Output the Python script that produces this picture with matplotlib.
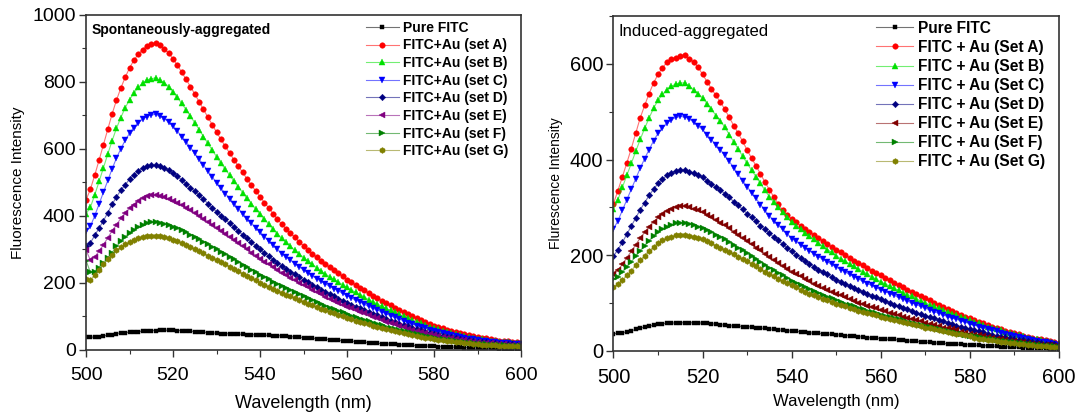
import numpy as np
import matplotlib
matplotlib.use('Agg')
import matplotlib.pyplot as plt
from matplotlib.colors import to_rgba
from matplotlib.ticker import MultipleLocator

plt.rcParams['font.family'] = ['Liberation Sans', 'DejaVu Sans']

# longitud de onda, 1 nm
wavelength = np.arange(500, 601)

# panel izquierdo: espontaneamente agregado
left_pure = [38, 38, 39, 40, 42, 44, 46, 49, 51, 52, 53, 54, 55, 56, 57, 58, 58,
             59, 59, 59, 59, 58, 58, 57, 56, 55, 54, 53, 52, 51, 50, 49, 49, 48, 48, 47, 47, 46, 46, 45, 45,
             44, 44, 43, 43, 42, 41, 40, 39, 38, 37, 36, 35, 34, 33, 32, 31, 30, 29, 28, 27,
             26, 25, 24, 23, 22, 21, 20, 19, 18, 18, 17, 16, 15, 14, 14, 13, 12, 12, 11, 11,
             10, 10, 9, 9, 8, 8, 7, 7, 6, 6, 6, 5, 5, 5, 4, 4, 4, 3, 3, 3]
left_a = [448, 480, 522, 567, 613, 659, 705, 746, 782, 814, 842, 865, 883, 897, 908, 913, 915,
          909, 899, 886, 869, 850, 829, 808, 786, 764, 741, 718, 695, 673, 650, 629, 608, 588, 568, 549, 530, 511, 492, 475, 458,
          440, 424, 407, 391, 375, 361, 349, 336, 323, 311, 299, 288, 277, 266, 256, 247, 238, 229, 220, 210,
          202, 194, 186, 178, 169, 162, 155, 147, 140, 133, 126, 120, 113, 107, 101, 95, 90, 84, 79, 73,
          70, 65, 61, 57, 53, 50, 48, 44, 41, 38, 37, 35, 32, 30, 28, 27, 26, 25, 23, 22]
left_b = [406, 426, 463, 503, 544, 585, 625, 662, 694, 723, 747, 767, 784, 796, 806, 810, 812,
          806, 798, 786, 771, 754, 736, 717, 698, 678, 658, 637, 617, 597, 577, 558, 540, 522, 504, 487, 470, 453, 437, 421, 406,
          391, 376, 361, 347, 333, 321, 309, 298, 287, 276, 266, 256, 246, 236, 227, 219, 211, 203, 195, 187,
          179, 172, 165, 158, 150, 144, 137, 131, 124, 118, 112, 106, 101, 95, 89, 84, 80, 75, 70, 65,
          62, 58, 54, 50, 47, 45, 42, 39, 37, 34, 32, 31, 28, 27, 25, 24, 23, 22, 20, 19]
left_c = [355, 369, 401, 436, 471, 506, 541, 573, 601, 626, 647, 664, 678, 689, 697, 702, 703,
          698, 691, 680, 668, 653, 637, 621, 604, 587, 569, 552, 534, 517, 499, 483, 467, 452, 437, 422, 407, 392, 378, 365, 352,
          338, 325, 313, 300, 288, 278, 268, 258, 248, 239, 230, 221, 213, 205, 197, 190, 183, 176, 169, 162,
          155, 149, 143, 136, 130, 124, 119, 113, 108, 102, 97, 92, 87, 82, 77, 73, 69, 65, 60, 56,
          53, 50, 47, 44, 41, 39, 37, 34, 32, 30, 28, 27, 25, 23, 22, 21, 20, 19, 18, 17]
left_d = [309, 320, 342, 364, 386, 410, 435, 457, 477, 493, 510, 523, 534, 543, 548, 551, 551,
          548, 543, 536, 528, 518, 508, 497, 485, 474, 462, 450, 437, 425, 413, 401, 390, 378, 367, 355, 344, 333, 322, 311, 300,
          290, 280, 270, 260, 251, 242, 234, 226, 217, 209, 202, 194, 187, 179, 172, 166, 160, 153, 147, 141,
          135, 129, 124, 118, 113, 108, 103, 98, 93, 88, 84, 79, 75, 71, 66, 63, 59, 55, 52, 48,
          46, 43, 40, 38, 35, 33, 31, 29, 27, 25, 24, 23, 21, 20, 19, 18, 17, 17, 16, 15]
left_e = [298, 268, 277, 296, 314, 335, 356, 374, 393, 409, 423, 434, 444, 453, 459, 462, 462,
          460, 456, 451, 446, 440, 433, 425, 417, 409, 400, 391, 383, 374, 365, 356, 347, 337, 328, 319, 310, 300, 291, 282, 273,
          264, 256, 248, 239, 231, 224, 216, 209, 201, 194, 187, 180, 173, 166, 159, 153, 147, 141, 135, 129,
          124, 119, 114, 109, 104, 99, 95, 90, 85, 81, 77, 73, 68, 64, 60, 57, 54, 50, 47, 44,
          42, 39, 37, 35, 32, 30, 29, 27, 25, 23, 22, 21, 20, 18, 18, 17, 16, 15, 15, 14]
left_f = [267, 232, 234, 246, 259, 274, 291, 309, 324, 337, 349, 358, 367, 373, 378, 381, 381,
          379, 376, 372, 368, 363, 357, 351, 344, 337, 330, 323, 315, 308, 301, 293, 286, 278, 271, 263, 255, 248, 240, 232, 225,
          218, 211, 204, 197, 191, 184, 178, 172, 166, 160, 154, 149, 143, 137, 131, 126, 122, 117, 112, 107,
          102, 98, 94, 90, 86, 82, 78, 74, 70, 67, 63, 60, 56, 53, 50, 47, 44, 42, 39, 36,
          34, 32, 30, 29, 27, 25, 24, 22, 21, 19, 18, 17, 16, 15, 14, 14, 13, 13, 12, 11]
left_g = [211, 210, 223, 239, 256, 271, 285, 297, 307, 315, 323, 329, 334, 338, 340, 341, 340,
          339, 337, 333, 329, 325, 320, 314, 308, 302, 295, 289, 282, 276, 269, 263, 256, 249, 242, 235, 228, 222, 215, 208, 201,
          195, 189, 183, 177, 171, 165, 160, 154, 149, 143, 138, 133, 128, 123, 118, 113, 109, 104, 100, 95,
          92, 88, 84, 80, 77, 73, 70, 66, 63, 60, 57, 54, 50, 47, 44, 42, 40, 37, 35, 32,
          31, 29, 27, 26, 24, 23, 21, 20, 18, 17, 16, 15, 15, 14, 13, 12, 12, 11, 11, 10]

# panel derecho: agregado inducido
right_pure = [36, 37, 38, 40, 42, 45, 48, 50, 52, 54, 56, 57, 58, 58, 59, 59, 59,
              59, 59, 59, 58, 58, 57, 56, 55, 54, 53, 52, 52, 51, 51, 50, 49, 48, 47, 46, 45, 44, 43, 42, 42,
              41, 40, 39, 38, 37, 37, 36, 35, 35, 34, 33, 32, 32, 31, 30, 29, 28, 27, 27, 26,
              25, 24, 24, 23, 22, 21, 20, 20, 19, 18, 18, 17, 16, 16, 15, 15, 14, 14, 13, 13,
              12, 12, 11, 11, 10, 10, 9, 9, 8, 8, 8, 7, 7, 7, 6, 6, 6, 5, 5, 5]
right_a = [308, 335, 364, 393, 423, 455, 487, 513, 538, 560, 578, 592, 603, 611, 612, 616, 618,
           610, 604, 593, 578, 563, 548, 534, 520, 505, 488, 471, 455, 438, 420, 403, 387, 370, 353, 337, 322, 307, 294, 285, 276,
           269, 262, 255, 249, 243, 237, 230, 224, 218, 212, 206, 200, 195, 189, 184, 179, 173, 168, 163, 158,
           153, 148, 143, 138, 133, 128, 124, 119, 115, 110, 106, 101, 97, 92, 88, 84, 80, 76, 72, 68,
           65, 61, 58, 54, 51, 48, 45, 42, 40, 37, 35, 32, 30, 28, 25, 24, 22, 20, 18, 16]
right_b = [297, 316, 342, 367, 392, 417, 442, 465, 487, 507, 524, 536, 546, 553, 558, 560, 560,
           554, 546, 538, 529, 517, 505, 492, 480, 468, 452, 437, 422, 407, 392, 378, 364, 350, 336, 322, 311, 301, 290, 279, 269,
           262, 254, 247, 240, 233, 226, 219, 212, 206, 199, 193, 188, 182, 177, 171, 166, 161, 155, 150, 145,
           140, 136, 131, 127, 122, 118, 114, 109, 105, 101, 97, 93, 90, 86, 82, 78, 75, 71, 68, 64,
           61, 58, 54, 51, 48, 45, 43, 40, 38, 35, 33, 31, 28, 26, 24, 22, 20, 18, 17, 15]
right_c = [255, 272, 294, 316, 338, 360, 382, 402, 421, 439, 455, 466, 476, 483, 488, 490, 489,
           485, 478, 470, 463, 452, 441, 431, 420, 409, 396, 383, 369, 356, 343, 331, 319, 306, 294, 282, 272, 263, 254, 245, 235,
           229, 222, 216, 209, 203, 197, 192, 186, 181, 175, 170, 165, 160, 155, 150, 146, 141, 137, 132, 128,
           124, 120, 116, 112, 108, 104, 100, 97, 93, 89, 86, 82, 79, 75, 72, 69, 66, 63, 60, 57,
           54, 51, 49, 46, 43, 41, 38, 36, 33, 31, 29, 27, 25, 23, 21, 19, 18, 16, 15, 13]
right_d = [198, 212, 227, 244, 261, 278, 295, 310, 325, 338, 350, 359, 367, 372, 376, 378, 378,
           375, 372, 367, 363, 356, 349, 342, 336, 329, 321, 312, 304, 296, 287, 279, 271, 262, 254, 246, 238, 231, 223, 215, 208,
           201, 195, 189, 182, 176, 170, 165, 160, 155, 149, 145, 140, 136, 131, 127, 123, 119, 115, 112, 108,
           104, 101, 97, 93, 90, 87, 84, 80, 77, 74, 71, 68, 65, 62, 59, 56, 53, 51, 48, 45,
           43, 41, 39, 36, 34, 32, 30, 29, 27, 25, 23, 22, 21, 19, 18, 17, 15, 15, 14, 12]
right_e = [160, 169, 181, 195, 208, 222, 236, 248, 260, 270, 279, 287, 293, 297, 300, 302, 302,
           300, 297, 294, 290, 284, 279, 274, 268, 263, 256, 249, 243, 236, 230, 223, 216, 210, 203, 196, 190, 184, 178, 172, 166,
           161, 156, 151, 146, 140, 136, 132, 128, 124, 119, 116, 112, 108, 105, 101, 98, 95, 92, 89, 86,
           83, 80, 78, 75, 72, 69, 67, 64, 62, 59, 56, 54, 52, 49, 47, 45, 43, 40, 38, 36,
           34, 33, 31, 29, 27, 26, 24, 23, 21, 20, 19, 18, 17, 15, 14, 13, 12, 12, 11, 10]
right_f = [150, 155, 165, 176, 186, 198, 209, 220, 230, 240, 248, 255, 260, 264, 267, 268, 268,
           266, 264, 260, 257, 252, 248, 243, 238, 233, 227, 221, 215, 210, 204, 198, 192, 186, 180, 174, 169, 163, 158, 153, 147,
           143, 138, 134, 129, 125, 121, 117, 113, 110, 106, 103, 99, 96, 93, 90, 87, 84, 82, 79, 76,
           74, 71, 69, 66, 64, 61, 59, 57, 55, 52, 50, 48, 46, 44, 42, 40, 38, 36, 34, 32,
           31, 29, 27, 26, 24, 23, 21, 20, 19, 18, 17, 16, 15, 14, 13, 12, 11, 10, 10, 9]
right_g = [134, 140, 148, 158, 168, 179, 190, 199, 209, 217, 225, 231, 236, 239, 242, 243, 243,
           241, 239, 236, 233, 229, 225, 220, 216, 212, 207, 202, 197, 192, 188, 182, 177, 172, 166, 161, 156, 151, 146, 142, 137,
           133, 128, 124, 120, 116, 113, 109, 106, 102, 99, 96, 93, 90, 87, 84, 82, 80, 77, 75, 72,
           69, 67, 64, 62, 60, 58, 56, 54, 52, 49, 47, 45, 44, 42, 40, 38, 36, 35, 33, 31,
           28, 26, 25, 23, 22, 21, 19, 18, 17, 16, 15, 14, 13, 12, 11, 11, 10, 9, 9, 8]

left_labels = ['Pure FITC', 'FITC+Au (set A)', 'FITC+Au (set B)', 'FITC+Au (set C)',
               'FITC+Au (set D)', 'FITC+Au (set E)', 'FITC+Au (set F)', 'FITC+Au (set G)']
right_labels = ['Pure FITC', 'FITC + Au (Set A)', 'FITC + Au (Set B)', 'FITC + Au (Set C)',
                'FITC + Au (Set D)', 'FITC + Au (Set E)', 'FITC + Au (Set F)', 'FITC + Au (Set G)']

left_colors = ['#000000', '#ff0000', '#00e000', '#0000ff', '#000080', '#800080', '#008000', '#808000']
right_colors = ['#000000', '#ff0000', '#00e000', '#0000ff', '#000080', '#800000', '#008000', '#808000']
markers = ['s', 'o', '^', 'v', 'D', '<', '>', 'h']
msizes = [3, 4, 4, 4, 3.3, 4, 4, 4.2]


#dibuja un panel
def panel(ax, series, labels, colors, ymax, title, title_bold, title_size,
          ylabel, ylabel_size, xlabel_size, xlabel_pad, tick_size, leg_size, leg_pos, leg_space):
    for y, lab, c, m, s in zip(series, labels, colors, markers, msizes):
        ax.plot(wavelength, y, color=to_rgba(c, 0.55), lw=0.8, marker=m, ms=s,
                mfc=c, mec=c, mew=0.3, label=lab)
    ax.set_xlim(500, 600)
    ax.set_ylim(0, ymax)
    ax.xaxis.set_major_locator(MultipleLocator(20))
    ax.xaxis.set_minor_locator(MultipleLocator(10))
    ax.yaxis.set_major_locator(MultipleLocator(200))
    ax.yaxis.set_minor_locator(MultipleLocator(100))
    ax.tick_params(which='both', direction='out', top=False, right=False, color='#333333')
    ax.tick_params(which='major', length=5, width=1, labelsize=tick_size)
    ax.tick_params(which='minor', length=3, width=0.8)
    ax.tick_params(axis='x', which='major', pad=7)
    ax.tick_params(axis='y', which='major', pad=2.5)
    for sp in ax.spines.values():
        sp.set_linewidth(1.2)
        sp.set_color('#333333')
    ax.set_xlabel('Wavelength (nm)', fontsize=xlabel_size, labelpad=xlabel_pad)
    ax.set_ylabel(ylabel, fontsize=ylabel_size, labelpad=5)
    ax.text(0.012, 0.975, title, transform=ax.transAxes, ha='left', va='top',
            fontsize=title_size, fontweight='bold' if title_bold else 'normal')
    ax.legend(loc='upper left', bbox_to_anchor=leg_pos, frameon=False, numpoints=1,
              handlelength=2.4, handletextpad=0.3, labelspacing=leg_space, borderaxespad=0,
              prop={'size': leg_size, 'weight': 'bold'})


fig = plt.figure(figsize=(10.81, 4.12), dpi=100)
ax1 = fig.add_axes([0.0796, 0.1505, 0.4024, 0.8131])
ax2 = fig.add_axes([0.5675, 0.1481, 0.4121, 0.8131])

panel(ax1, [left_pure, left_a, left_b, left_c, left_d, left_e, left_f, left_g],
      left_labels, left_colors, 1000, 'Spontaneously-aggregated', True, 10,
      'Fluorescence Intensity', 11, 13, 8, 14, 10, (0.63, 0.999), 0.26)
panel(ax2, [right_pure, right_a, right_b, right_c, right_d, right_e, right_f, right_g],
      right_labels, right_colors, 700, 'Induced-aggregated', False, 12,
      'Flurescence Intensity', 10, 12, 5, 14.5, 11.2, (0.575, 1.004), 0.26)

fig.savefig('out.png', dpi=100)
